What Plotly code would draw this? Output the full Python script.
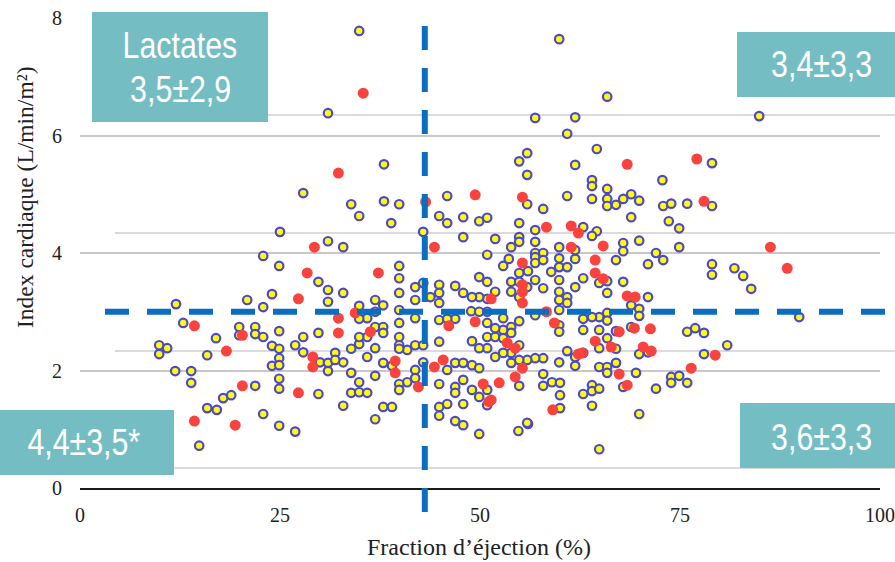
import plotly.graph_objects as go

# ---- data ----
yellow_x = [34.9,59.9,31.0,56.9,61.9,60.9,64.6,55.9,54.9,55.9,61.9,38.0,64.0,64.0,64.0,27.9,45.9,60.9,33.9,38.0,39.9,34.9,55.9,57.9,44.9,45.9,47.9,49.9,50.9,38.9,25.0,42.9,47.9,51.9,54.9,54.9,56.9,62.9,64.6,64.0,56.9,31.0,32.9,53.9,54.9,59.9,
            65.9,84.9,79.0,65.9,65.9,65.9,67.0,67.9,68.9,69.9,72.8,72.9,73.9,75.9,79.0,68.9,73.6,74.9,67.9,69.9,74.9,72.0,
            22.9,24.9,12.0,20.9,22.9,24.0,12.9,19.9,21.9,19.9,21.9,22.9,24.9,17.0,9.9,10.9,9.9,15.9,24.0,24.9,24.9,24.0,24.9,26.9,11.9,13.9,13.9,21.9,24.9,24.9,17.9,18.9,15.9,17.1,22.9,24.9,26.9,14.9,
            32.9,36.9,37.9,39.0,44.9,44.9,45.9,47.9,46.9,47.9,49.9,50.9,54.8,56.0,60.0,64.0,64.9,69.9,
            67.9,72.9,71.0,67.0,62.9,64.9,65.9,67.9,65.9,71.0,79.0,79.0,81.8,82.9,83.9,89.9,68.9,69.9,69.9,65.9,65.9,64.9,64.0,62.9,62.9,64.9,67.0,68.9,65.9,64.9,67.0,69.9,71.0,62.9,75.9,76.9,78.0,80.9,78.0,64.9,65.9,65.9,67.0,69.5,67.9,64.0,64.0,64.9,62.9,72.0,73.9,73.9,74.9,75.9,
            50.9,52.9,53.6,56.0,56.9,56.9,56.9,57.9,57.9,54.9,53.9,53.9,54.9,54.9,55.9,56.9,57.9,58.9,59.9,59.9,59.9,59.9,59.9,59.9,60.9,60.9,60.9,61.9,61.9,61.9,61.9,60.9,61.9,59.9,56.9,59.9,59.9,57.9,56.9,55.9,54.9,53.9,53.9,54.9,52.9,51.9,50.9,49.9,49.0,50.9,51.9,52.9,52.9,53.9,53.9,54.9,52.9,51.9,50.9,48.9,49.9,50.9,51.9,50.9,49.9,49.0,47.9,49.9,50.9,46.9,44.9,44.9,44.9,43.8,41.9,41.9,41.9,39.9,39.9,39.9,39.9,39.9,39.9,39.9,40.9,41.9,42.9,44.9,46.9,45.9,44.9,46.9,47.9,49.0,49.9,45.9,42.9,41.9,41.9,40.9,39.9,39.9,39.0,37.9,36.9,35.9,34.9,33.9,35.9,34.9,36.9,37.9,37.9,34.9,35.9,36.9,37.9,36.9,32.9,31.0,31.0,29.8,29.8,27.9,27.9,30.0,31.0,31.0,31.9,32.9,33.9,34.9,33.9,34.9,35.9,36.9,29.8,44.9,46.9,46.9,47.9,49.0,49.9,50.9,54.9,55.9,57.9,57.9,59.0,60.0,60.0,
            42.9,34.9,39.9,31.9]
yellow_y = [7.78,7.64,6.38,6.30,6.31,6.03,5.77,5.70,5.56,5.33,5.50,5.51,5.24,5.14,4.92,5.02,4.97,4.97,4.83,4.88,4.83,4.63,4.83,4.75,4.63,4.51,4.61,4.54,4.60,4.51,4.36,4.36,4.27,4.24,4.51,4.27,4.39,4.44,4.37,4.29,4.19,4.20,4.10,4.10,4.19,4.10,
            6.66,6.33,5.53,5.09,4.92,4.80,4.82,4.92,5.00,4.89,5.24,4.80,4.84,4.84,4.80,4.61,4.54,4.42,4.17,4.21,4.10,4.00,
            3.95,3.78,3.13,3.20,3.08,3.30,2.81,2.74,2.74,2.60,2.62,2.57,2.67,2.55,2.43,2.38,2.28,2.26,2.42,2.37,2.21,2.08,2.09,2.43,1.99,1.99,1.79,1.74,1.86,1.69,1.53,1.58,1.36,1.33,1.26,1.06,0.96,0.72,
            1.40,1.17,1.38,1.38,1.38,1.23,1.43,1.43,1.14,1.07,0.92,1.41,0.97,1.09,1.36,1.40,0.66,1.26,
            4.03,3.88,3.81,3.88,3.57,3.49,3.52,3.51,3.32,3.25,3.81,3.63,3.74,3.61,3.39,2.91,3.11,3.05,2.93,2.98,2.85,2.91,2.91,2.88,2.69,2.69,2.67,2.74,2.55,2.38,2.37,2.28,2.31,2.30,2.66,2.72,2.64,2.43,2.28,2.06,2.06,1.96,2.13,1.96,1.72,1.75,1.65,1.69,1.60,1.69,1.89,1.79,1.91,1.79,
            3.97,3.78,3.90,3.69,4.00,3.93,3.83,4.00,3.88,3.66,3.51,3.34,3.51,3.25,3.42,3.54,3.40,3.68,3.91,3.76,3.54,3.34,3.20,3.03,3.76,3.25,3.15,3.90,4.05,3.42,2.23,2.33,2.08,2.14,2.94,2.77,2.66,2.21,2.21,2.18,2.18,2.13,2.30,2.43,2.30,2.23,2.38,2.38,2.50,2.57,2.57,2.69,2.55,2.74,2.64,2.84,2.89,2.72,2.81,3.01,3.00,3.00,3.34,3.22,3.25,3.25,3.32,3.59,3.51,3.44,3.46,3.32,3.15,3.25,3.42,3.20,2.89,3.78,3.57,3.32,3.03,2.81,2.57,2.43,2.35,2.43,2.43,2.86,2.88,2.88,2.49,2.13,2.13,2.09,2.04,2.01,2.14,2.01,1.87,1.80,1.77,1.67,2.08,2.13,2.38,2.23,2.45,2.37,2.57,2.57,2.74,2.74,2.64,3.10,2.89,3.20,3.11,3.00,3.32,3.37,3.17,3.51,2.64,2.57,2.31,2.14,2.13,1.99,2.30,2.14,1.96,1.80,1.62,1.63,1.62,1.91,1.60,1.77,1.72,1.62,1.84,1.67,1.55,1.67,1.74,1.11,1.94,1.74,1.80,1.79,1.58,
            3.49,2.88,2.37,2.18]

red_x = [35.4,32.3,49.4,55.3,43.2,58.3,61.4,62.3,29.3,44.3,61.4,68.4,77.1,78.0,65.4,86.3,27.3,14.3,20.3,18.3,20.3,27.3,14.3,19.4,51.1,59.1,64.4,64.4,65.4,68.4,69.4,88.4,67.4,69.3,71.3,64.4,66.4,70.4,71.4,62.8,79.4,76.4,67.4,68.4,55.3,55.3,55.3,55.3,59.3,58.3,62.3,55.3,54.4,53.4,54.4,49.4,51.4,46.1,45.4,44.3,42.3,39.4,39.4,36.3,34.4,32.3,32.3,28.4,37.3,29.1,29.1,50.4,51.4,52.4]
red_y = [6.72,5.36,4.99,4.95,4.87,4.44,4.46,4.34,4.10,4.10,4.10,5.51,5.60,4.88,4.12,4.10,3.22,2.76,2.60,2.33,1.74,1.62,1.14,1.07,1.47,1.33,3.88,3.66,3.56,3.27,3.25,3.74,2.66,2.72,2.71,2.50,2.40,2.40,2.33,2.30,2.26,2.04,1.94,1.75,3.83,3.46,3.34,3.15,2.81,3.00,2.28,2.04,1.89,2.47,2.38,2.83,3.22,2.76,2.18,2.06,1.72,2.16,1.96,2.66,2.98,2.89,2.64,3.66,3.66,2.23,2.06,1.77,1.50,1.79]

x_ticks = [0, 25, 50, 75, 100]
y_ticks = [0, 2, 4, 6, 8]
ef_threshold = 43.1
ci_threshold = 3.0
box_texts = ["Lactates", "3,5±2,9", "3,4±3,3", "4,4±3,5*", "3,6±3,3"]

# ---- layout geometry (pixels of the 895x562 canvas) ----
W, H = 895, 562
L, R, T, B = 80, 880, 18, 488


def px(xp):
    return (xp - L) / (R - L)


def py(yp):
    return (B - yp) / (B - T)


fig = go.Figure()
fig.add_trace(go.Scatter(
    x=yellow_x, y=yellow_y, mode="markers",
    marker=dict(size=8.5, color="#FFFF00", line=dict(color="#4B47D2", width=2.2)),
    hoverinfo="skip", showlegend=False, cliponaxis=False))
fig.add_trace(go.Scatter(
    x=red_x, y=red_y, mode="markers",
    marker=dict(size=11, color="#F9433F", line=dict(width=0)),
    hoverinfo="skip", showlegend=False, cliponaxis=False))

shapes = []
# secondary (offset) gridlines seen in the reference
for yp in [115, 233, 351, 468]:
    shapes.append(dict(type="line", xref="paper", yref="paper", x0=px(115), x1=px(895),
                       y0=py(yp), y1=py(yp), line=dict(color="#CFCFCF", width=1.5), layer="below"))
# dashed threshold lines
blue = "#0A6EC0"
shapes.append(dict(type="line", xref="paper", yref="paper",
                   x0=ef_threshold / 100, x1=ef_threshold / 100, y0=py(26), y1=py(512),
                   line=dict(color=blue, width=6, dash="24px,18px")))
shapes.append(dict(type="line", xref="paper", yref="paper",
                   x0=px(105), x1=px(886), y0=ci_threshold / 8, y1=ci_threshold / 8,
                   line=dict(color=blue, width=6, dash="24px,18px")))
# teal boxes
teal = "#74BEC3"
boxes = [(92, 268, 12, 122), (737, 895, 32, 97), (0, 174, 410, 475), (740, 895, 403, 468)]
for (a, b, c, d) in boxes:
    shapes.append(dict(type="rect", xref="paper", yref="paper", x0=px(a), x1=px(b),
                       y0=py(d), y1=py(c), fillcolor=teal, line=dict(width=0)))

narrow = "Liberation Sans Narrow, Arial Narrow, Liberation Sans, Arial, sans-serif"
text_pos = [(180, 45), (180, 89), (821, 64), (84, 442), (821, 437)]
annotations = []
for t, (xp_, yp_) in zip(box_texts, text_pos):
    annotations.append(dict(text=t, xref="paper", yref="paper", x=px(xp_), y=py(yp_),
                            xanchor="center", yanchor="middle", showarrow=False,
                            font=dict(family=narrow, size=37, color="white")))

serif = "Liberation Serif, Times New Roman, serif"
annotations.append(dict(text="Fraction d’éjection (%)", xref="paper", yref="paper",
                        x=px(479), y=py(547), xanchor="center", yanchor="middle", showarrow=False,
                        font=dict(family=serif, size=24, color="#222")))
annotations.append(dict(text="Index cardiaque (L/min/m²)", xref="paper", yref="paper",
                        x=px(25), y=py(197), xanchor="center", yanchor="middle", showarrow=False,
                        textangle=-90, font=dict(family=serif, size=23.5, color="#222")))

fig.update_layout(
    width=W, height=H,
    margin=dict(l=L, r=W - R, t=T, b=H - B, pad=0),
    paper_bgcolor="white", plot_bgcolor="white",
    shapes=shapes, annotations=annotations,
    xaxis=dict(range=[0, 100], tickvals=x_ticks, showgrid=False, zeroline=False,
               showline=True, linecolor="#1A1A1A", linewidth=2, ticks="",
               ticklabelstandoff=8, automargin=False,
               tickfont=dict(family=serif, size=20, color="#222")),
    yaxis=dict(range=[0, 8], tickvals=y_ticks, showgrid=True, gridcolor="#C8C8C8", gridwidth=1.5,
               zeroline=False, showline=False, ticks="", ticklabelstandoff=17, automargin=False,
               tickfont=dict(family=serif, size=20, color="#222")),
)

# page styling: no body margin; box labels rendered condensed (the reference uses a narrow face)
post = """
var st = document.createElement('style');
st.textContent = 'html,body{margin:0;padding:0;overflow:hidden;}' +
  '.annotation[data-index="0"] text,.annotation[data-index="1"] text,.annotation[data-index="2"] text,' +
  '.annotation[data-index="3"] text,.annotation[data-index="4"] text' +
  '{transform-box:fill-box;transform-origin:center;transform:scaleX(0.82);}';
document.head.appendChild(st);
"""

fig.write_html("out.html", post_script=post, config={"displayModeBar": False})
